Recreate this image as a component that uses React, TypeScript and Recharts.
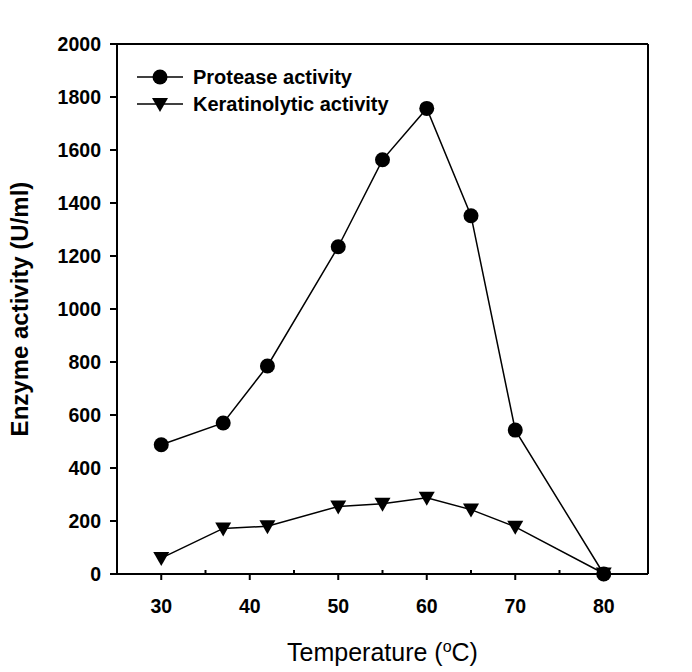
import React from 'react';
import { LineChart, Line, XAxis, YAxis, ReferenceLine } from 'recharts';

const temps = [30, 37, 42, 50, 55, 60, 65, 70, 80];
const protease = [488, 570, 785, 1235, 1563, 1757, 1352, 543, 0];
const keratinolytic = [60, 172, 180, 255, 265, 288, 243, 178, 2];
const xTicks = [30, 35, 40, 45, 50, 55, 60, 65, 70, 75, 80];
const yTicks = [0, 200, 400, 600, 800, 1000, 1200, 1400, 1600, 1800, 2000];

const data = temps.map((t, i) => ({ t, protease: protease[i], keratin: keratinolytic[i] }));

const FONT = '"Liberation Sans", Arial, sans-serif';

const CircleDot = (props: any) => {
  const { cx, cy } = props;
  if (cx == null || cy == null) return null;
  return <circle cx={cx} cy={cy} r={7.5} fill="#000" />;
};

const TriDot = (props: any) => {
  const { cx, cy } = props;
  if (cx == null || cy == null) return null;
  return <path d={`M${cx - 8},${cy - 6} L${cx + 8},${cy - 6} L${cx},${cy + 8} Z`} fill="#000" />;
};

const XTick = (props: any) => {
  const { x, y, payload } = props;
  const major = payload.value % 10 === 0;
  return (
    <g>
      {major ? (
        <>
          <line x1={x} y1={y} x2={x} y2={y + 6} stroke="#000" strokeWidth={2} />
          <text x={x} y={y + 39} textAnchor="middle" fontFamily={FONT} fontWeight="bold" fontSize={19.5} fill="#000">
            {payload.value}
          </text>
        </>
      ) : (
        <line x1={x} y1={y} x2={x} y2={y - 4} stroke="#000" strokeWidth={2} />
      )}
    </g>
  );
};

const XLabel = (props: any) => {
  const { viewBox } = props;
  const cx = viewBox.x + viewBox.width / 2;
  return (
    <text x={cx} y={661} textAnchor="middle" fontFamily={FONT} fontSize={25} fill="#000">
      Temperature (<tspan dy={-9} fontSize={16}>o</tspan><tspan dy={9}>C)</tspan>
    </text>
  );
};

const Legend = () => (
  <svg width={320} height={60} style={{ position: 'absolute', left: 130, top: 60 }}>
    <line x1={7} y1={17} x2={53} y2={17} stroke="#000" strokeWidth={1.5} />
    <circle cx={30} cy={17} r={7.5} fill="#000" />
    <text x={63} y={24} fontFamily={FONT} fontWeight="bold" fontSize={20} fill="#000">Protease activity</text>
    <line x1={7} y1={44} x2={53} y2={44} stroke="#000" strokeWidth={1.5} />
    <path d="M22,38 L38,38 L30,52 Z" fill="#000" />
    <text x={63} y={51} fontFamily={FONT} fontWeight="bold" fontSize={20} fill="#000">Keratinolytic activity</text>
  </svg>
);

export default function App() {
  return (
    <div style={{ position: 'absolute', left: 0, top: 0, width: 692, height: 672, background: '#fff' }}>
      <LineChart width={692} height={672} data={data} margin={{ top: 44, right: 44, bottom: 38, left: 0 }}>
        <XAxis
          dataKey="t"
          type="number"
          domain={[25, 85]}
          ticks={xTicks}
          interval={0}
          tickSize={0}
          tickMargin={0}
          tickLine={false}
          tick={<XTick />}
          height={60}
          axisLine={{ stroke: '#000', strokeWidth: 2 }}
          label={<XLabel />}
        />
        <YAxis
          type="number"
          domain={[0, 2000]}
          ticks={yTicks}
          interval={0}
          width={117}
          tickSize={7}
          tickMargin={9}
          tickLine={{ stroke: '#000', strokeWidth: 2 }}
          axisLine={{ stroke: '#000', strokeWidth: 2 }}
          tick={{ fill: '#000', fontFamily: FONT, fontWeight: 'bold', fontSize: 19.5 }}
          label={{
            value: 'Enzyme activity (U/ml)',
            angle: -90,
            position: 'insideLeft',
            offset: 19,
            style: { fill: '#000', fontFamily: FONT, fontWeight: 'bold', fontSize: 24, textAnchor: 'middle' },
          }}
        />
        <ReferenceLine y={2000} stroke="#000" strokeWidth={2} ifOverflow="visible" />
        <ReferenceLine x={85} stroke="#000" strokeWidth={2} ifOverflow="visible" />
        <Line
          dataKey="protease"
          stroke="#000"
          strokeWidth={1.5}
          dot={<CircleDot />}
          activeDot={false}
          isAnimationActive={false}
        />
        <Line
          dataKey="keratin"
          stroke="#000"
          strokeWidth={1.5}
          dot={<TriDot />}
          activeDot={false}
          isAnimationActive={false}
        />
      </LineChart>
      <Legend />
    </div>
  );
}
